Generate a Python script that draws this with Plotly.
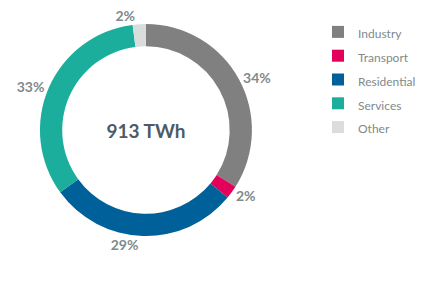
import plotly.graph_objects as go

categories = ["Industry", "Transport", "Residential", "Services", "Other"]
shares = [34, 2, 29, 33, 2]
colors = ["#808080", "#E2005A", "#00609A", "#1BAE9C", "#D9DDDC"]
center_label = "913 TWh"

legend_labels = ["<span style='font-size:12px'>" + c + "</span>" for c in categories]

fig = go.Figure(go.Pie(
    labels=legend_labels,
    values=shares,
    marker=dict(colors=colors, line=dict(width=0)),
    hole=0.79,
    sort=False,
    direction="clockwise",
    rotation=0,
    textposition="outside",
    texttemplate="<b>%{value}%</b>",
    textfont=dict(family="Lato", size=14, color="#7F8A8C"),
    domain=dict(x=[0.093, 0.589], y=[0.166, 0.915]),
    title=dict(text="<b>" + center_label + "</b>", position="middle center",
               font=dict(family="Lato", size=19, color="#4E5B64")),
    showlegend=True,
    hoverinfo="value+percent",
))

fig.update_layout(
    width=428, height=283,
    margin=dict(l=0, r=0, t=0, b=0),
    paper_bgcolor="white",
    plot_bgcolor="white",
    legend=dict(x=0.743, y=0.947, xanchor="left", yanchor="top",
                font=dict(family="Lato", size=16, color="#7F8A8C"),
                itemwidth=30),
)

fig.write_html("out.html")
